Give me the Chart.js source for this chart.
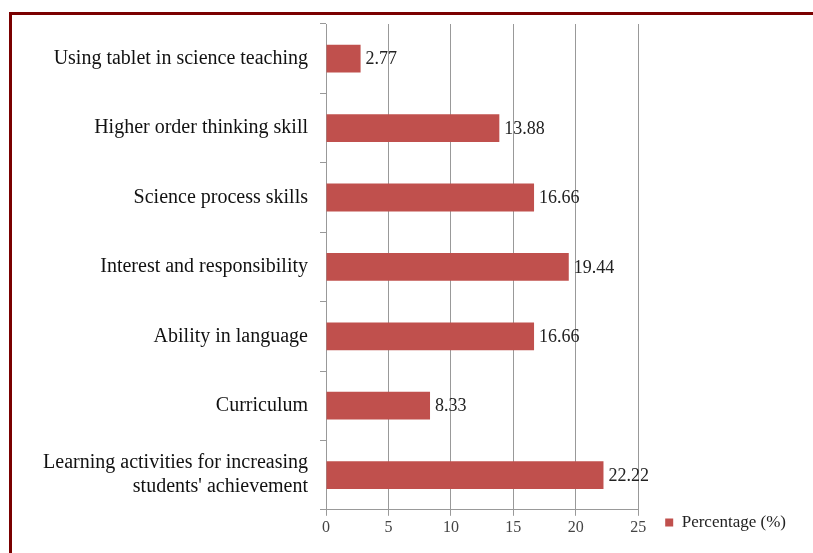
<!DOCTYPE html>
<html>
<head>
<meta charset="utf-8">
<script src="https://cdn.jsdelivr.net/npm/chart.js@4.4.0/dist/chart.umd.min.js"></script>
<style>
  html, body { margin: 0; padding: 0; background: #fff; overflow: hidden; }
  #frame {
    position: absolute; left: 9px; top: 12px; width: 900px; height: 600px;
    border-top: 3px solid #7a0000; border-left: 3px solid #7a0000;
  }
  #wrap { position: absolute; left: 0; top: 0; width: 813px; height: 553px; }
</style>
</head>
<body>
<div id="frame"></div>
<div id="wrap"><canvas id="chart" width="813" height="553"></canvas></div>
<script>
// categories, top to bottom
const categories = [
  'Using tablet in science teaching',
  'Higher order thinking skill',
  'Science process skills',
  'Interest and responsibility',
  'Ability in language',
  'Curriculum',
  ['Learning activities for increasing', "students' achievement"]
];
const percentages = [2.77, 13.88, 16.66, 19.44, 16.66, 8.33, 22.22];
const xTicks = [0, 5, 10, 15, 20, 25];

const serif = '"Liberation Serif", "Times New Roman", serif';

// write the value just right of each bar
const valueLabels = {
  id: 'valueLabels',
  afterDatasetsDraw(chart) {
    const ctx = chart.ctx;
    const meta = chart.getDatasetMeta(0);
    ctx.save();
    ctx.font = '18px ' + serif;
    ctx.fillStyle = '#222';
    ctx.textAlign = 'left';
    ctx.textBaseline = 'middle';
    meta.data.forEach((bar, i) => {
      ctx.fillText(percentages[i].toFixed(2), bar.x + 5, bar.y + 1);
    });
    ctx.restore();
  }
};

// nudge the legend a bit away from the plot, like the original
const legendNudge = {
  id: 'legendNudge',
  afterLayout(chart) {
    const lg = chart.legend;
    lg.left += 17; lg.right += 17;
    lg.top += 2; lg.bottom += 2;
  }
};

new Chart(document.getElementById('chart'), {
  type: 'bar',
  data: {
    labels: categories,
    datasets: [{
      label: 'Percentage (%)',
      data: percentages,
      backgroundColor: '#c0504d',
      borderWidth: 0,
      barPercentage: 0.8,
      categoryPercentage: 0.5
    }]
  },
  options: {
    indexAxis: 'y',
    responsive: false,
    animation: false,
    layout: { padding: { top: 24, bottom: 14, left: 0, right: 34 } },
    plugins: {
      legend: {
        position: 'right',
        align: 'end',
        labels: {
          boxWidth: 8, boxHeight: 8, padding: 10,
          color: '#222',
          font: { family: serif, size: 17 }
        }
      },
      tooltip: { enabled: false }
    },
    scales: {
      x: {
        min: 0, max: 25,
        afterBuildTicks(scale) { scale.ticks = xTicks.map(v => ({ value: v })); },
        grid: { color: '#999', tickLength: 6, lineWidth: 1 },
        border: { color: '#999' },
        ticks: { color: '#444', padding: 2, font: { family: serif, size: 16 } }
      },
      y: {
        afterFit(scale) {
          scale.width = 326;
          scale.paddingTop = 0;
          scale.paddingBottom = 0;
        },
        grid: { drawOnChartArea: false, color: '#999', tickLength: 6 },
        border: { color: '#999' },
        ticks: { color: '#111', padding: 12, font: { family: serif, size: 20 } }
      }
    }
  },
  plugins: [valueLabels, legendNudge]
});
</script>
</body>
</html>
